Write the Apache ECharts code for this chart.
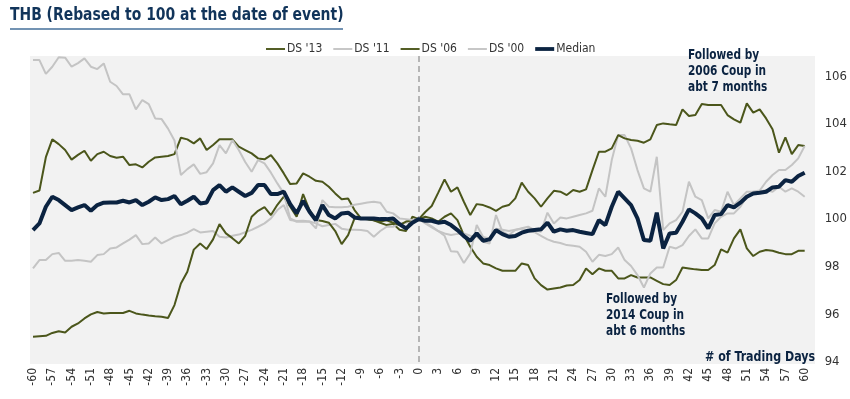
<!DOCTYPE html>
<html>
<head>
<meta charset="utf-8">
<script src="https://cdn.jsdelivr.net/npm/echarts@6/dist/echarts.min.js"></script>
<style>
  html, body { margin: 0; padding: 0; background: #fff; }
  #chart { width: 850px; height: 399px; }
</style>
</head>
<body>
<div id="chart"></div>
<script>
// trading days relative to the event, -60 .. 60
const days = [];
for (let d = -60; d <= 60; d++) days.push(d);

const ds13 = [
  101.1, 101.2, 102.6, 103.35, 103.15, 102.9, 102.5, 102.7, 102.87, 102.45,
  102.73, 102.83, 102.65, 102.58, 102.62, 102.27, 102.3, 102.17, 102.41, 102.59,
  102.62, 102.65, 102.73, 103.42, 103.35, 103.18, 103.39, 102.9, 103.11, 103.35,
  103.35, 103.35, 103.04, 102.9, 102.76, 102.55, 102.51, 102.69, 102.34, 101.92,
  101.47, 101.5, 101.92, 101.78, 101.61, 101.57, 101.36, 101.08, 100.83, 100.87,
  100.38, 100.03, 99.99, 99.95, 99.85, 99.75, 99.8, 99.55, 99.5, 100.1,
  100, 100.1, 100.03, 99.89, 100.1, 100.24, 99.96, 99.33, 98.84, 98.42,
  98.14, 98.07, 97.93, 97.83, 97.83, 97.83, 98.14, 98.07, 97.51, 97.23,
  97.04, 97.09, 97.13, 97.21, 97.23, 97.44, 97.93, 97.69, 97.93, 97.83,
  97.83, 97.51, 97.51, 97.65, 97.55, 97.55, 97.55, 97.41, 97.27, 97.23,
  97.44, 97.97, 97.93, 97.89, 97.86, 97.86, 98.07, 98.73, 98.59, 99.19,
  99.57, 98.77, 98.45, 98.63, 98.7, 98.67, 98.59, 98.53, 98.53, 98.67, 98.67
];
const ds11 = [
  97.93, 98.28, 98.28, 98.53, 98.58, 98.25, 98.25, 98.28, 98.25, 98.21,
  98.49, 98.53, 98.77, 98.81, 98.98, 99.14, 99.33, 98.95, 98.98, 99.23,
  98.98, 99.12, 99.26, 99.33, 99.43, 99.58, 99.44, 99.47, 99.5, 99.26,
  99.23, 99.3, 99.35, 99.45, 99.55, 99.68, 99.82, 100.03, 100.38, 100.59,
  99.96, 99.92, 99.93, 99.9, 99.82, 99.7, 99.75, 99.8, 99.6, 99.55,
  99.55, 99.54, 99.5, 99.26, 99.5, 99.68, 99.68, 99.82, 99.85, 99.95,
  100, 99.82, 99.65, 99.5, 99.4, 99.33, 99.38, 99.4, 99.3, 99.26,
  99.05, 98.98, 100.17, 99.47, 99.33, 99.54, 99.62, 99.68, 99.54, 99.47,
  100.27, 99.82, 100.07, 100.03, 100.1, 100.17, 100.24, 100.35, 101.29, 100.94,
  102.48, 103.53, 103.53, 102.97, 102.06, 101.29, 101.15, 102.62, 99.54, 99.82,
  99.96, 100.31, 101.57, 100.94, 100.8, 100.03, 100.38, 100.31, 101.15, 100.59,
  100.87, 101.15, 101.15, 101.15, 101.22, 101.15, 101.36, 101.15, 101.29, 101.15, 100.94
];
const ds06 = [
  95.06, 95.08, 95.1, 95.22, 95.29, 95.24, 95.48, 95.62, 95.83, 96.0,
  96.1, 96.04, 96.06, 96.06, 96.06, 96.15, 96.04, 95.99, 95.95, 95.92,
  95.9, 95.85, 96.39, 97.3, 97.79, 98.72, 98.98, 98.74, 99.15, 99.79,
  99.4, 99.2, 98.98, 99.3, 100.1, 100.35, 100.5, 100.17, 100.6, 100.94,
  100.52, 100.1, 101.05, 100.38, 99.96, 99.92, 99.85, 99.5, 98.95, 99.33,
  100.03, 100.05, 100.0, 99.95, 99.9, 99.95, 99.85, 99.75, 99.9, 99.95,
  100, 100.3, 100.55, 101.1, 101.67, 101.15, 101.33, 100.73, 100.17, 100.63,
  100.59, 100.49, 100.35, 100.52, 100.59, 100.87, 101.53, 101.15, 100.87, 100.52,
  100.87, 101.19, 101.15, 101.01, 101.22, 101.15, 101.25, 102.06, 102.83, 102.83,
  102.97, 103.53, 103.39, 103.32, 103.29, 103.21, 103.35, 103.95, 104.02, 103.98,
  103.95, 104.61, 104.33, 104.37, 104.83, 104.79, 104.79, 104.79, 104.37, 104.19,
  104.05, 104.86, 104.47, 104.61, 104.23, 103.77, 102.79, 103.43, 102.73, 103.11, 103.07
];
const ds00 = [
  106.68, 106.68, 106.1, 106.4, 106.8, 106.78, 106.4, 106.55, 106.75, 106.4,
  106.3, 106.54, 105.77, 105.59, 105.24, 105.24, 104.61, 105.0, 104.83, 104.23,
  104.2, 103.8, 103.3, 101.85, 102.1, 102.3, 101.9, 101.97, 102.34, 103.11,
  102.76, 103.32, 102.9, 102.4, 101.99, 102.48, 102.34, 101.95, 101.5, 101.08,
  100.03, 99.89, 99.89, 99.9, 99.61, 100.8, 100.52, 100.5, 100.5, 100.52,
  100.6, 100.65, 100.7, 100.73, 100.69, 100.31, 100.24, 100.03, 100.0, 99.96,
  100, 99.85, 99.7, 99.5, 99.3, 98.65, 98.63, 98.16, 98.56, 99.75,
  99.25, 99.19, 99.6, 99.55, 99.5, 99.55, 99.6, 99.5, 99.45, 99.3,
  99.15, 99.05, 99.0, 98.91, 98.88, 98.84, 98.63, 98.21, 98.5, 98.45,
  98.53, 98.81, 98.28, 98.03, 97.65, 97.13, 97.72, 97.97, 97.97, 98.84,
  98.77, 98.91, 99.29, 99.57, 99.19, 99.19, 99.82, 100.1, 100.24, 100.24,
  100.52, 100.94, 101.15, 101.2, 101.57, 101.85, 102.06, 102.06, 102.27, 102.55, 103.07
];
const median = [
  99.54, 99.82, 100.52, 100.94, 100.8, 100.59, 100.38, 100.49, 100.59, 100.35,
  100.59, 100.69, 100.7, 100.7, 100.77, 100.7, 100.8, 100.59, 100.73, 100.91,
  100.8, 100.84, 100.97, 100.62, 100.77, 100.94, 100.66, 100.7, 101.22, 101.43,
  101.15, 101.33, 101.15, 100.97, 101.1, 101.43, 101.43, 101.05, 101.05, 101.15,
  100.63, 100.24, 100.77, 100.31, 99.95, 100.59, 100.17, 100.03, 100.24, 100.27,
  100.07, 100.03, 100.03, 100.03, 100.0, 100.0, 100.03, 99.79, 99.61, 99.85,
  100, 99.93, 99.93, 99.85, 99.89, 99.75, 99.54, 99.29, 99.09, 99.4,
  99.09, 99.15, 99.54, 99.37, 99.26, 99.29, 99.43, 99.51, 99.54, 99.57,
  99.85, 99.47, 99.57, 99.51, 99.54, 99.47, 99.42, 99.37, 99.96, 99.75,
  100.52, 101.15, 100.87, 100.59, 100.03, 99.12, 99.09, 100.27, 98.77, 99.4,
  99.43, 99.89, 100.41, 100.24, 100.03, 99.61, 100.17, 100.21, 100.59, 100.49,
  100.69, 100.94, 101.08, 101.11, 101.15, 101.33, 101.36, 101.64, 101.57, 101.81, 101.95
];

const seriesNames = ["DS '13", "DS '11", "DS '06", "DS '00", "Median"];
const seriesData = [ds13, ds11, ds06, ds00, median];
const yTicks = [94, 96, 98, 100, 102, 104, 106];

const OLIVE = "#4b561b";
const GREY = "#c4c4c4";
const NAVY = "#0b2341";
const colors = [OLIVE, GREY, OLIVE, GREY, NAVY];
const widths = [2, 2, 2, 2, 4];
const FONT = "'DejaVu Sans Condensed', 'DejaVu Sans', sans-serif";

// legend line icons, thin for the events and thick for the median
const THIN = "path://M0,0H20V2H0Z";
const THICK = "path://M0,0H20V4H0Z";

const chart = echarts.init(document.getElementById("chart"));

const series = seriesNames.map((name, i) => ({
  name: name,
  type: "line",
  showSymbol: false,
  symbol: "none",
  animation: false,
  data: days.map((d, k) => [d, seriesData[i][k]]),
  lineStyle: { color: colors[i], width: widths[i] },
  itemStyle: { color: colors[i] },
  z: i === 4 ? 5 : 3,
}));

// dashed line at the date of event
series[0].markLine = {
  silent: true,
  symbol: "none",
  label: { show: false },
  lineStyle: { color: "#b5b5b5", type: [6, 4], width: 2 },
  data: [{ xAxis: 0 }],
};

function note(text, x, y, size, sx) {
  return {
    type: "text",
    x: x,
    y: y,
    scaleX: sx,
    style: {
      text: text,
      fill: NAVY,
      font: "bold " + size + "px " + FONT,
      lineHeight: 16,
      verticalAlign: "top",
    },
  };
}

const option = {
  backgroundColor: "#fff",
  animation: false,
  textStyle: { fontFamily: FONT },
  graphic: [
    {
      type: "rect",
      z: -10,
      shape: { x: 30, y: 56, width: 785, height: 308 },
      style: { fill: "#f2f2f2" },
    },
    {
      type: "text",
      x: 10,
      y: 6,
      scaleX: 0.86,
      style: {
        text: "THB (Rebased to 100 at the date of event)",
        fill: "#11345a",
        font: "bold 18px " + FONT,
        verticalAlign: "top",
      },
    },
    {
      type: "rect",
      shape: { x: 10, y: 28, width: 333, height: 2 },
      style: { fill: "#7393b3" },
    },
    note("Followed by\n2006 Coup in\nabt 7 months", 688, 47, 14, 0.84),
    note("Followed by\n2014 Coup in\nabt 6 months", 606, 291, 14, 0.84),
    note("# of Trading Days", 705, 349, 14, 0.88),
  ],
  legend: {
    data: seriesNames.map((n, i) => ({ name: n, icon: i === 4 ? THICK : THIN })),
    top: 38,
    left: 261,
    itemWidth: 19,
    itemHeight: 4,
    itemGap: 11,
    textStyle: { color: "#333", fontSize: 12, fontFamily: FONT, padding: [0, 0, 0, -3] },
  },
  grid: { left: 33, right: 40, top: 56, bottom: 37 },
  xAxis: {
    type: "value",
    min: -60,
    max: 60,
    interval: 3,
    axisLine: { show: false },
    axisTick: { show: false },
    splitLine: { show: false },
    axisLabel: {
      rotate: 90,
      color: "#333",
      fontSize: 12,
      margin: 6,
      fontFamily: FONT,
    },
  },
  yAxis: {
    type: "value",
    position: "right",
    min: 94,
    max: 106.85,
    interval: 2,
    axisLine: { show: false },
    axisTick: { show: false },
    splitLine: { show: false },
    axisLabel: {
      color: "#333",
      fontSize: 13,
      margin: 20,
      fontFamily: FONT,
      showMaxLabel: false,
      formatter: (v) => (yTicks.indexOf(v) >= 0 ? String(v) : ""),
    },
  },
  series: series,
};

chart.setOption(option);
</script>
</body>
</html>
